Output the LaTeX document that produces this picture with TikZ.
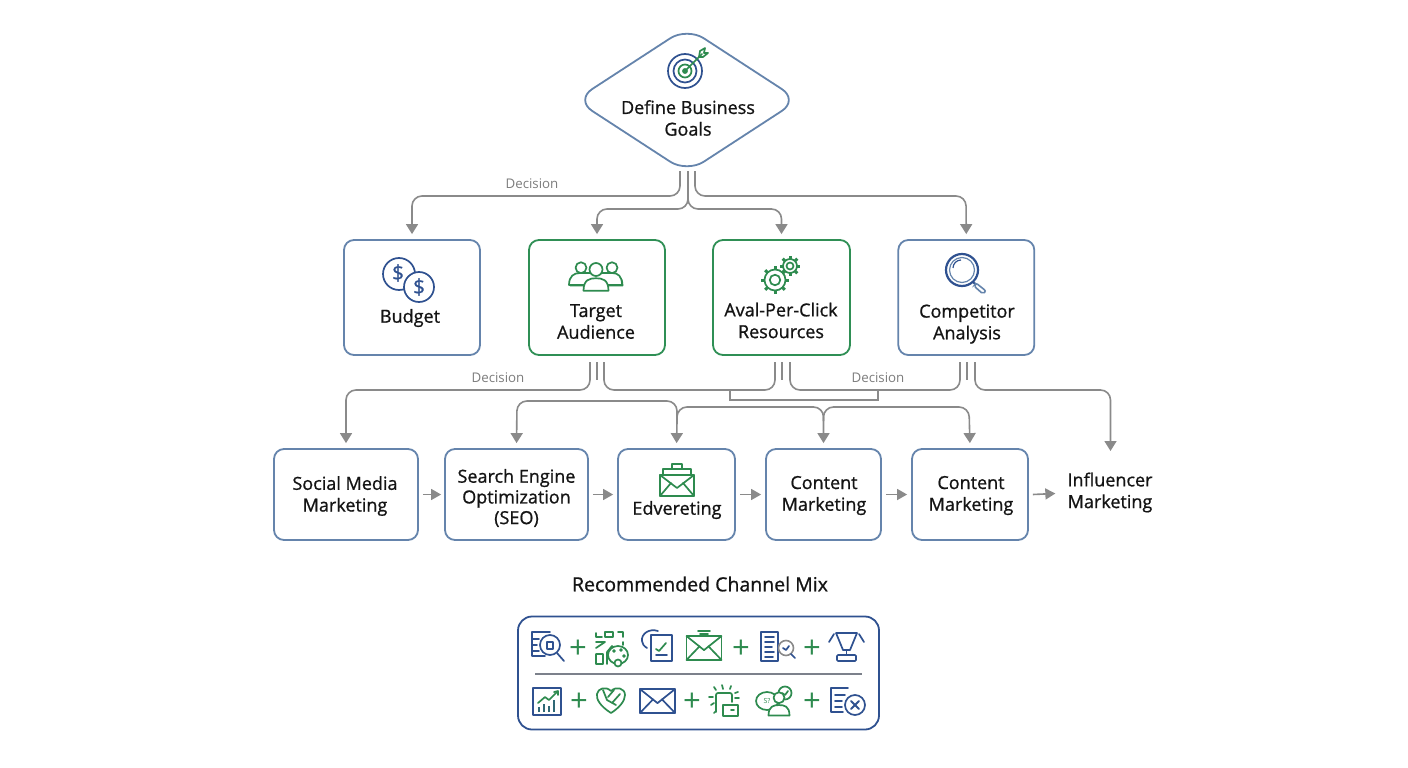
\documentclass[tikz,border=0pt]{standalone}
\usepackage{fontspec}
\setmainfont{Open Sans}
\newfontfamily\labfont[FakeBold=0.9]{Open Sans}
\usetikzlibrary{arrows.meta,shapes.geometric,calc}
\definecolor{bluebd}{HTML}{6584AC}
\definecolor{greenbd}{HTML}{2F8F55}
\definecolor{navy}{HTML}{2F5190}
\definecolor{leaf}{HTML}{2E8B4F}
\definecolor{conn}{HTML}{8A8A8A}
\definecolor{ink}{HTML}{141414}
\tikzset{
 x=1pt,y=-1pt,
 box/.style={draw=bluebd,line width=1.8pt,rounded corners=10pt,fill=white,inner sep=0pt},
 gbox/.style={box,draw=greenbd},
 label/.style={font=\labfont\fontsize{18}{21.7}\selectfont,text=ink,align=center,inner sep=0pt},
 declabel/.style={font=\fontsize{13.3}{15}\selectfont,text=conn!90!black,inner sep=0pt},
 wire/.style={draw=conn,line width=1.6pt,rounded corners=10pt},
 arr/.style={wire,-{Triangle[length=10pt,width=12pt]},shorten >=5pt},
 harr/.style={draw=conn,line width=1.6pt,-{Triangle[length=10pt,width=11pt]}},
 nv/.style={draw=navy,line width=1.7pt,line join=round,line cap=round},
 gr/.style={draw=leaf,line width=1.7pt,line join=round,line cap=round},
 plusmark/.style={font=\fontsize{31}{31}\selectfont,text=leaf,inner sep=0pt},
}
\newcommand{\envicon}[4]{% style, x, y, half w
 \draw[#1] (#2-#4,#3-0.68*#4) rectangle (#2+#4,#3+0.68*#4);
 \draw[#1] (#2-#4,#3-0.68*#4) -- (#2,#3+0.12*#4) -- (#2+#4,#3-0.68*#4);
 \draw[#1] (#2-#4,#3+0.68*#4) -- (#2-0.25*#4,#3-0.1*#4);
 \draw[#1] (#2+#4,#3+0.68*#4) -- (#2+0.25*#4,#3-0.1*#4);
}
\newcommand{\gearicon}[3]{% x y r
 \foreach \a in {0,45,...,315}{\draw[gr,line width=3pt,line cap=butt] ($(#1,#2)+(\a:#3)$) -- ($(#1,#2)+(\a:#3+3.4)$);}
 \draw[gr,fill=white] (#1,#2) circle (#3);
 \draw[gr] (#1,#2) circle (#3*0.5);
}
\newcommand{\personicon}[4]{% style x y scale
 \draw[#1,fill=white] (#2,#3-6*#4) circle (5.2*#4);
 \draw[#1,fill=white] (#2-10*#4,#3+11*#4) .. controls (#2-10*#4,#3+2*#4) and (#2-5*#4,#3+1*#4) .. (#2,#3+1*#4) .. controls (#2+5*#4,#3+1*#4) and (#2+10*#4,#3+2*#4) .. (#2+10*#4,#3+11*#4) -- cycle;
}
\begin{document}
\begin{tikzpicture}
\useasboundingbox (0,0) rectangle (1408,768);
% ---------- nodes
\node[diamond,draw=bluebd,line width=1.8pt,rounded corners=20pt,fill=white,minimum width=224pt,minimum height=146pt,inner sep=0pt] (goal) at (687,100) {};
\node[label] (goaltext) at (688,118) {Define Business\\Goals};
\node[box,minimum width=136pt,minimum height=115pt] (budget) at (412,297.5) {};
\node[gbox,minimum width=136pt,minimum height=115pt] (audience) at (597,297.5) {};
\node[gbox,minimum width=137pt,minimum height=115pt] (resources) at (781.5,297.5) {};
\node[box,minimum width=136pt,minimum height=115pt] (competitor) at (966.3,297.5) {};
\node[label] (budgettext) at (410,318) {Budget};
\node[label] (audiencetext) at (596,321.5) {Target\\Audience};
\node[label] (resourcestext) at (781,320.5) {Aval-Per-Click\\Resources};
\node[label] (competitortext) at (967,324) {Competitor\\Analysis};
\node[box,minimum width=144pt,minimum height=91pt] (social) at (346,494.5) {};
\node[label] (socialtext) at (345,496) {Social Media\\Marketing};
\node[box,minimum width=143pt,minimum height=91pt] (seo) at (516.5,494.5) {};
\node[label,font=\labfont\fontsize{18}{20.7}\selectfont] (seotext) at (516.5,498) {Search Engine\\Optimization\\(SEO)};
\node[box,minimum width=117pt,minimum height=91pt] (edv) at (676.5,494.5) {};
\node[label] (edvtext) at (677,510) {Edvereting};
\node[box,minimum width=115pt,minimum height=91pt] (content) at (823.5,494.5) {};
\node[label] (contenttext) at (824,495.5) {Content\\Marketing};
\node[box,minimum width=116pt,minimum height=91pt] (contentb) at (970,494.5) {};
\node[label] (contentbtext) at (971,495.5) {Content\\Marketing};
\node[label] (influencer) at (1110,492.5) {Influencer\\Marketing};
\node[label,font=\labfont\fontsize{19.5}{22}\selectfont] (mixtitle) at (700,584) {Recommended Channel Mix};
\node[draw=navy,line width=1.8pt,rounded corners=14pt,fill=white,minimum width=361pt,minimum height=113pt,inner sep=0pt] (mix) at (698.5,673) {};
% ---------- labels on connectors
\node[declabel] (dec1) at (532,184) {Decision};
\node[declabel] (dec2) at (498,378) {Decision};
\node[declabel] (dec3) at (878,378) {Decision};
% ---------- connectors goal -> tier 2
\coordinate (ga) at (680,171);
\coordinate (gb) at (688,171);
\coordinate (gc) at (695,171);
\draw[arr] (ga) -- (680,196) -- (412,196) -- (budget.north);
\draw[arr] (gc) -- (695,196) -- (966,196) -- (competitor.north);
\draw[arr] (gb) -- (688,209) -- (597,209) -- (audience.north);
\draw[arr] (gb) -- (688,209) -- (781.5,209) -- (resources.north);
% ---------- tier 2 -> tier 3
\coordinate (aa) at (590,362);\coordinate (ab) at (597,362);\coordinate (ac) at (604,362);
\coordinate (ra) at (775,362);\coordinate (rb) at (782,362);\coordinate (rc) at (790,362);
\coordinate (ca) at (960,362);\coordinate (cb) at (967,362);\coordinate (cc) at (975,362);
\draw[arr] (aa) -- (590,390) -- (346,390) -- (social.north);
\draw[wire] (ac) -- (604,390) -- (775,390) -- (ra);
\draw[wire] (rc) -- (790,390) -- (960,390) -- (ca);
\draw[arr] (cc) -- (975,390) -- (1110.5,390) -- (1110.5,456);
\draw[wire] (ab) -- (597,380);
\draw[wire] (rb) -- (782,380);
\draw[wire] (cb) -- (967,380);
\draw[draw=conn,line width=1.5pt] (730,390) -- (730,400) -- (878,400) -- (878,390);
\coordinate (ma) at (677,421);
\coordinate (mb) at (823.5,421);
\draw[arr] (ma) -- (677,401) -- (517,401) -- (seo.north);
\draw[arr] (ma) -- (edv.north);
\draw[arr] (ma) -- (677,407) -- (823.5,407) -- (content.north);
\draw[arr] (mb) -- (823.5,407) -- (969,407) -- (contentb.north);
% ---------- horizontal arrows
\draw[harr] ($(social.east)+(4,0)$) -- ($(seo.west)+(-3,0)$);
\draw[harr] ($(seo.east)+(4,0)$) -- ($(edv.west)+(-4,0)$);
\draw[harr] ($(edv.east)+(4,0)$) -- ($(content.west)+(-4,0)$);
\draw[harr] ($(content.east)+(4,0)$) -- ($(contentb.west)+(-4,0)$);
\draw[harr] ($(contentb.east)+(4,0)$) -- ($(influencer.west)+(-12,1)$);
% ---------- target icon
\draw[nv] (685,71) circle (17);
\draw[nv] (685,71) circle (11.5);
\draw[gr] (685,71) circle (6.5);
\draw[gr,fill=leaf] (685,71) circle (2);
\draw[gr] (685,71) -- (702,54);
\draw[gr] (699,57) -- (700,51) -- (705,48) -- (704,53) -- (708,53) -- (703,57) -- cycle;
% ---------- budget icon
\draw[nv] (399,274) circle (16);
\node[font=\labfont\fontsize{21}{21}\selectfont,text=navy,inner sep=0pt] (dollara) at (398,273) {\$};
\draw[nv,fill=white] (419,287) circle (15);
\node[font=\labfont\fontsize{21}{21}\selectfont,text=navy,inner sep=0pt] (dollarb) at (419,287) {\$};
% ---------- audience icon
\personicon{gr}{581}{274}{1.05}
\personicon{gr}{612}{274}{1.05}
\draw[gr,fill=white] (569,285) .. controls (569,276) and (574,273) .. (580,273) -- (612,273) .. controls (618,273) and (622,276) .. (622,285) -- cycle;
\draw[draw=none,fill=white] (578,286.5) rectangle (614,288);
\personicon{gr}{596}{277}{1.25}
% ---------- gears
\gearicon{775}{280}{10.5}
\gearicon{790}{266}{7}
% ---------- magnifier
\draw[navy,line width=2.2pt] (962,270) circle (16);
\draw[bluebd,line width=1.2pt] (962,270) circle (12.5);
\draw[navy,line width=1.2pt] (953,268) arc (180:270:8);
\draw[navy,line width=2pt] (973,282) -- (977,286);
\draw[draw=bluebd,fill=white,line width=1.6pt,line cap=round,rounded corners=2pt] (976,283) -- (986,291) -- (983,294) -- (974,286) -- cycle;
% ---------- envelope in Edvereting
\draw[gr] (660,475) rectangle (694,496);
\draw[gr] (660,475) -- (677,488) -- (694,475);
\draw[gr] (660,496) -- (671,483);\draw[gr] (694,496) -- (683,483);
\draw[gr] (663,475) -- (663,469) -- (691,469) -- (691,475);
\draw[gr] (672,469) -- (672,464) -- (682,464) -- (682,469);
% ---------- channel mix
\draw[draw=conn!85!navy,line width=1.2pt] (535,674) -- (862,674);
\node[plusmark] (p1) at (578,649) {+};
\node[plusmark] (p2) at (741,649) {+};
\node[plusmark] (p3) at (812,649) {+};
\node[plusmark] (p4) at (579,702) {+};
\node[plusmark] (p5) at (692,702) {+};
\node[plusmark] (p6) at (812,702) {+};
% icon 1: doc + magnifier
\draw[nv] (550,632) -- (532,632) -- (532,656) -- (545,656);
\draw[nv] (532,639) -- (539,639) (532,645) -- (537,645) (532,651) -- (539,651);
\draw[nv,fill=white] (550,645) circle (10);
\draw[nv] (557,653) -- (564,661);
\draw[nv] (547,642) rectangle (553,649);
% icon 2: green plan + palette
\draw[gr] (596,633) -- (596,637) -- (602,637) (596,642) -- (605,642) -- (596,648) (596,654) -- (596,664) -- (603,664) -- (603,654) -- cycle;
\draw[gr] (605,632) rectangle (613,637) (618,632) -- (623,632) -- (623,637) (623,642) -- (623,645);
\draw[gr] (607,664) -- (607,652) -- (612,646) -- (617,652);
\draw[gr,fill=white] (618,655) ellipse (10 and 9);
\draw[gr,fill=white] (618,663) circle (3.5);
\draw[gr] (614,651) circle (1) (621,650) circle (1) (624,656) circle (1);
% icon 3: doc with arc
\draw[nv] (658,631) .. controls (649,628) and (641,634) .. (642,641) .. controls (642,644) and (644,646) .. (647,648);
\draw[nv,fill=white] (651,635) rectangle (672,661);
\draw[nv] (656,655) -- (667,655);
\draw[gr] (656,649) -- (659,651) -- (666,643);
% icon 4: envelope
\envicon{gr}{704}{648}{17.5}
\draw[gr] (698,631) -- (710,631) (700,634) -- (708,634);
% icon 5: doc + gear lens
\draw[nv,fill=white] (761,632) rectangle (778,661);
\draw[nv] (765,637) -- (774,637) (765,642) -- (774,642) (765,647) -- (772,647) (765,652) -- (774,652) (765,657) -- (773,657);
\draw[draw=conn,fill=white,line width=1.6pt] (786,648) circle (7.5);
\draw[nv] (783,648) -- (786,650) -- (789,646);
\draw[nv] (791,654) -- (795,658);
% icon 6: lamp
\draw[nv] (836,633) -- (857,633) -- (850,650) -- (843,650) -- cycle;
\draw[nv] (846.5,650) -- (846.5,654);
\draw[nv,rounded corners=1pt] (837,655) rectangle (856,661);
\draw[nv] (834,634) -- (829,642) (859,634) -- (864,642);
% row 2 icon 1: chart
\draw[nv] (533,688) rectangle (561,715);
\draw[gr] (538,703) -- (545,697) -- (549,700) -- (557,692);
\draw[gr] (554,692) -- (558,691) -- (558,695);
\draw[navy!60!leaf,line width=2.4pt] (539,712) -- (539,707) (544,712) -- (544,704) (549,712) -- (549,706) (554,712) -- (554,700);
% row 2 icon 2: heart
\draw[gr] (611,713) .. controls (600,706) and (596,699) .. (597,694) .. controls (598,688) and (606,686) .. (611,691) .. controls (616,686) and (625,688) .. (625,695) .. controls (625,701) and (619,708) .. (611,713);
\draw[gr] (603,690) -- (607,700) -- (616,705) (614,690) -- (608,697) (620,694) -- (612,703);
% row 2 icon 3: envelope
\envicon{nv}{657.5}{701}{17.5}
% row 2 icon 4: printer with rays
\draw[gr,rounded corners=2pt] (716,712) -- (716,693) -- (732,693) -- (732,702);
\draw[gr,fill=white] (723,705) rectangle (738,716);
\draw[gr] (731,710) -- (734,710);
\draw[gr] (722,685) -- (723,689) (714,687) -- (716,690) (731,686) -- (730,689) (738,692) -- (735,693) (709,697) -- (713,697) (739,698) -- (735,698) (711,705) -- (714,703) (714,713) -- (716,711);
% row 2 icon 5: people with speech
\draw[gr] (767,701) ellipse (11 and 9);
\node[font=\fontsize{7}{7}\selectfont,text=leaf,inner sep=0pt] (speech) at (767,701) {S?};
\draw[gr] (785,693) circle (6.5);
\draw[gr] (782,693) -- (785,695) -- (788,691);
\personicon{gr}{779}{704}{1.05}
% row 2 icon 6: doc with x
\draw[nv] (848,688) -- (831,688) -- (831,712) -- (843,712);
\draw[nv] (835,695) -- (845,695) (835,701) -- (842,701) (835,707) -- (842,707);
\draw[nv,fill=white] (855,705) circle (10);
\draw[nv,line width=1.8pt] (851,701) -- (859,709) (859,701) -- (851,709);
\end{tikzpicture}
\end{document}
